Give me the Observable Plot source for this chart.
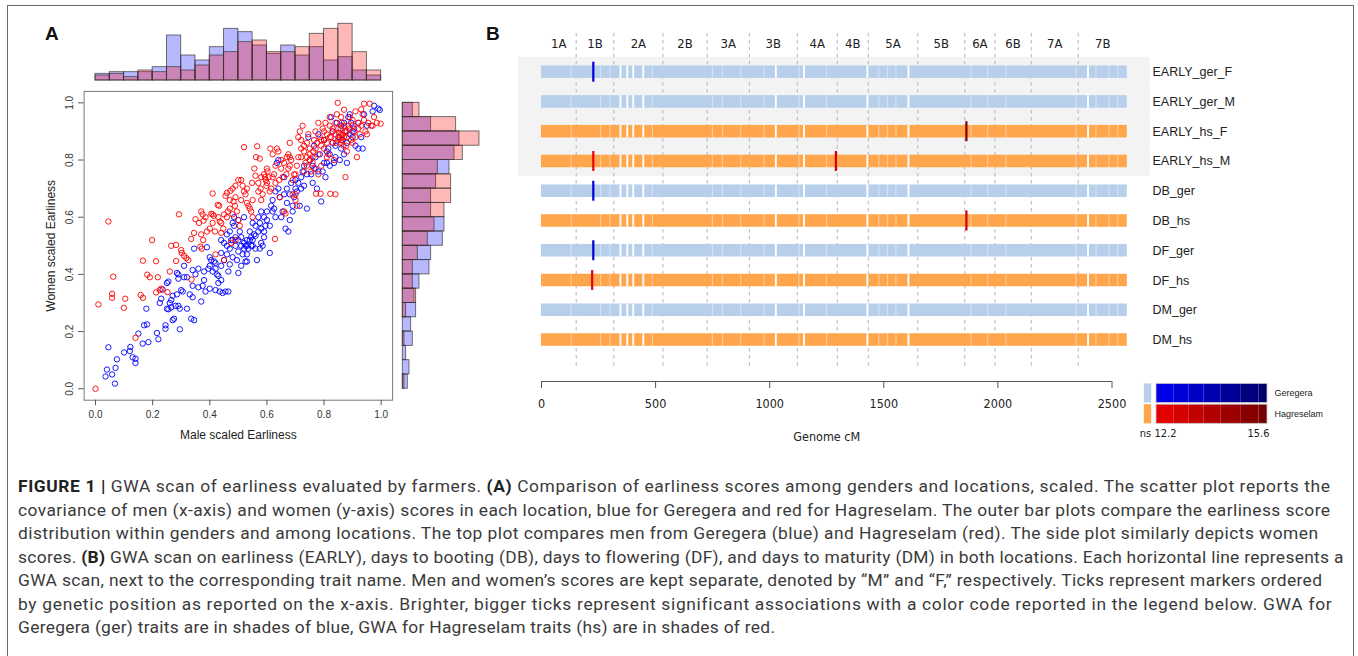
<!DOCTYPE html>
<html><head><meta charset="utf-8">
<script src="https://cdn.jsdelivr.net/npm/d3@7"></script>
<script src="https://cdn.jsdelivr.net/npm/@observablehq/plot@0.6"></script>
<style>
body{margin:0;background:#fff;}
#fig{position:relative;width:1358px;height:656px;overflow:hidden;font-family:"Liberation Sans",Arial,sans-serif;}
#fig svg{position:absolute;overflow:visible;}
.frame{position:absolute;left:7px;top:5px;width:1347px;height:720px;border:1.3px solid #6a6a6a;box-sizing:border-box;}
.plabel{position:absolute;font-weight:bold;font-size:19px;line-height:19px;color:#111;}
#caption{position:absolute;left:18px;top:475px;font-family:Roboto,"Liberation Sans",sans-serif;font-size:17.4px;line-height:23.5px;color:#3a3a3a;white-space:nowrap;}
#caption b{color:#222;}
</style></head>
<body>
<div id="fig">
  <div class="frame"></div>
  <div class="plabel" style="left:45px;top:24px">A</div>
  <div class="plabel" style="left:486px;top:24px">B</div>
  <div id="caption">
    <div><span data-end="1330"><b>FIGURE 1 |</b> GWA scan of earliness evaluated by farmers. <b>(A)</b> Comparison of earliness scores among genders and locations, scaled. The scatter plot reports the</span></div>
    <div><span data-end="1330">covariance of men (x-axis) and women (y-axis) scores in each location, blue for Geregera and red for Hagreselam. The outer bar plots compare the earliness score</span></div>
    <div><span data-end="1318">distribution within genders and among locations. The top plot compares men from Geregera (blue) and Hagreselam (red). The side plot similarly depicts women</span></div>
    <div><span data-end="1343">scores. <b>(B)</b> GWA scan on earliness (EARLY), days to booting (DB), days to flowering (DF), and days to maturity (DM) in both locations. Each horizontal line represents a</span></div>
    <div><span data-end="1322">GWA scan, next to the corresponding trait name. Men and women’s scores are kept separate, denoted by “M” and “F,” respectively. Ticks represent markers ordered</span></div>
    <div><span data-end="1331">by genetic position as reported on the x-axis. Brighter, bigger ticks represent significant associations with a color code reported in the legend below. GWA for</span></div>
    <div><span data-end="775">Geregera (ger) traits are in shades of blue, GWA for Hagreselam traits (hs) are in shades of red.</span></div>
  </div>
</div>
<script>
// ---------------- Panel A data ----------------
// [male score, female score]
const geregeraScores = [
[0.035,0.043],[0.04,0.067],[0.045,0.145],[0.058,0.05],[0.068,0.018],[0.07,0.073],[0.075,0.103],[0.1,0.127],[0.12,0.132],[0.122,0.146],
[0.13,0.11],[0.14,0.09],[0.14,0.105],[0.15,0.193],[0.165,0.158],[0.17,0.222],[0.178,0.28],[0.18,0.225],[0.185,0.163],[0.215,0.195],
[0.22,0.173],[0.225,0.30],[0.23,0.315],[0.235,0.347],[0.245,0.21],[0.245,0.222],[0.25,0.37],[0.255,0.375],[0.25,0.28],[0.255,0.278],
[0.26,0.30],[0.265,0.285],[0.265,0.31],[0.27,0.325],[0.27,0.24],[0.275,0.245],[0.28,0.29],[0.285,0.33],[0.285,0.405],[0.29,0.40],
[0.29,0.385],[0.29,0.29],[0.295,0.28],[0.295,0.208],[0.30,0.345],[0.305,0.34],[0.31,0.43],[0.31,0.39],[0.32,0.39],[0.32,0.28],
[0.33,0.33],[0.335,0.245],[0.34,0.415],[0.34,0.32],[0.345,0.49],[0.345,0.24],[0.35,0.40],[0.36,0.355],[0.37,0.305],[0.375,0.36],
[0.385,0.34],[0.39,0.495],[0.395,0.42],[0.40,0.46],[0.405,0.45],[0.41,0.41],[0.415,0.445],[0.42,0.345],[0.42,0.44],[0.425,0.40],
[0.43,0.395],[0.43,0.37],[0.435,0.34],[0.44,0.475],[0.44,0.52],[0.445,0.335],[0.45,0.45],[0.45,0.51],[0.455,0.34],[0.46,0.50],
[0.46,0.54],[0.465,0.41],[0.465,0.34],[0.47,0.435],[0.47,0.55],[0.475,0.52],[0.48,0.46],[0.48,0.58],[0.485,0.60],[0.485,0.57],
[0.49,0.50],[0.49,0.53],[0.495,0.45],[0.50,0.48],[0.50,0.59],[0.505,0.55],[0.51,0.43],[0.51,0.50],[0.515,0.47],[0.52,0.60],
[0.52,0.51],[0.525,0.50],[0.53,0.52],[0.53,0.47],[0.535,0.49],[0.54,0.55],[0.545,0.50],[0.55,0.52],[0.55,0.58],[0.555,0.54],
[0.56,0.535],[0.565,0.45],[0.57,0.60],[0.575,0.58],[0.58,0.56],[0.58,0.51],[0.585,0.50],[0.59,0.60],[0.59,0.55],[0.595,0.57],
[0.60,0.59],[0.61,0.475],[0.615,0.64],[0.62,0.66],[0.625,0.63],[0.63,0.69],[0.635,0.79],[0.64,0.80],[0.645,0.67],[0.65,0.60],
[0.655,0.62],[0.66,0.74],[0.665,0.56],[0.67,0.70],[0.675,0.55],[0.68,0.59],[0.685,0.72],[0.69,0.64],[0.695,0.67],[0.70,0.70],
[0.705,0.69],[0.71,0.72],[0.715,0.64],[0.72,0.74],[0.725,0.76],[0.73,0.78],[0.74,0.63],[0.745,0.88],[0.75,0.80],[0.755,0.75],
[0.76,0.72],[0.765,0.85],[0.77,0.77],[0.775,0.70],[0.78,0.89],[0.785,0.82],[0.79,0.655],[0.795,0.76],[0.80,0.87],[0.805,0.74],
[0.81,0.79],[0.815,0.84],[0.82,0.78],[0.825,0.95],[0.83,0.86],[0.835,0.79],[0.84,0.81],[0.845,0.93],[0.85,0.88],[0.855,0.80],
[0.86,0.92],[0.865,0.87],[0.87,0.82],[0.875,0.90],[0.88,0.79],[0.885,0.95],[0.89,0.96],[0.895,0.93],[0.90,0.88],[0.905,0.91],
[0.91,0.85],[0.92,0.84],[0.93,0.88],[0.935,0.84],[0.94,0.96],[0.95,0.92],[0.97,0.97],[0.975,0.99],[0.99,0.98],[0.995,0.975],
[0.575,0.49],[0.53,0.445],[0.50,0.405],[0.545,0.53],[0.525,0.445],
[0.48,0.52],[0.50,0.52],[0.51,0.53],[0.52,0.49],[0.53,0.50],[0.54,0.52],[0.55,0.50],[0.56,0.57],[0.57,0.55],[0.47,0.49],
[0.46,0.47],[0.44,0.43],[0.42,0.42],[0.40,0.43],[0.38,0.41],[0.36,0.42],[0.58,0.62],[0.60,0.62],[0.62,0.62],[0.64,0.70],
[0.66,0.68],[0.68,0.68],[0.70,0.73],[0.72,0.70],[0.74,0.75],[0.76,0.78],[0.78,0.76],[0.80,0.79],[0.82,0.82],[0.84,0.85],
[0.86,0.84],[0.88,0.86],[0.90,0.90],[0.92,0.93],[0.89,0.89],[0.87,0.93],[0.83,0.90],[0.81,0.83],[0.77,0.81],[0.73,0.71],
[0.69,0.62],[0.67,0.65],[0.63,0.60],[0.61,0.57],[0.59,0.53],[0.56,0.49],[0.44,0.38],[0.40,0.35],[0.38,0.38],[0.34,0.36]
];
const hagreselamScores = [
[0.00,0.00],[0.01,0.295],[0.045,0.585],[0.062,0.392],[0.058,0.332],[0.058,0.318],[0.099,0.283],[0.104,0.315],[0.14,0.178],[0.158,0.328],
[0.166,0.318],[0.166,0.448],[0.181,0.399],[0.19,0.39],[0.198,0.52],[0.212,0.446],[0.218,0.39],[0.212,0.337],[0.225,0.345],[0.23,0.35],
[0.252,0.338],[0.26,0.41],[0.265,0.5],[0.282,0.503],[0.282,0.447],[0.292,0.61],[0.30,0.485],[0.302,0.475],[0.31,0.465],[0.318,0.457],
[0.325,0.45],[0.335,0.524],[0.336,0.382],[0.345,0.545],[0.35,0.593],[0.362,0.58],[0.37,0.62],[0.375,0.61],[0.385,0.6],[0.378,0.588],
[0.367,0.497],[0.372,0.49],[0.377,0.52],[0.40,0.56],[0.405,0.612],[0.41,0.61],[0.414,0.605],[0.41,0.683],[0.418,0.55],[0.42,0.47],
[0.428,0.643],[0.433,0.64],[0.435,0.585],[0.44,0.58],[0.447,0.56],[0.44,0.545],[0.455,0.675],[0.46,0.685],[0.45,0.45],[0.472,0.692],
[0.48,0.70],[0.483,0.655],[0.488,0.64],[0.49,0.71],[0.495,0.62],[0.47,0.63],[0.48,0.61],[0.475,0.51],[0.49,0.52],[0.50,0.73],
[0.50,0.59],[0.505,0.57],[0.46,0.6],[0.463,0.62],[0.51,0.73],[0.515,0.71],[0.52,0.845],[0.52,0.69],[0.525,0.68],[0.53,0.65],
[0.535,0.64],[0.54,0.63],[0.545,0.62],[0.548,0.72],[0.55,0.6],[0.556,0.77],[0.56,0.745],[0.562,0.81],[0.566,0.848],[0.57,0.72],
[0.575,0.805],[0.578,0.70],[0.58,0.66],[0.585,0.68],[0.59,0.75],[0.593,0.74],[0.596,0.73],[0.598,0.71],[0.60,0.77],[0.602,0.76],
[0.606,0.74],[0.61,0.69],[0.612,0.84],[0.615,0.70],[0.62,0.82],[0.625,0.75],[0.628,0.524],[0.63,0.78],[0.635,0.84],[0.64,0.83],
[0.643,0.73],[0.645,0.67],[0.65,0.80],[0.655,0.74],[0.66,0.62],[0.665,0.613],[0.668,0.75],[0.67,0.81],[0.675,0.82],[0.68,0.86],
[0.685,0.80],[0.69,0.68],[0.695,0.75],[0.70,0.66],[0.70,0.68],[0.705,0.64],[0.71,0.88],[0.715,0.90],[0.72,0.87],[0.725,0.92],
[0.73,0.85],[0.735,0.79],[0.74,0.86],[0.745,0.89],[0.75,0.84],[0.755,0.76],[0.76,0.81],[0.762,0.83],[0.765,0.87],[0.77,0.90],
[0.772,0.682],[0.775,0.86],[0.78,0.93],[0.785,0.88],[0.788,0.682],[0.79,0.85],[0.795,0.91],[0.80,0.87],[0.805,0.93],[0.81,0.89],
[0.815,0.82],[0.82,0.95],[0.822,0.682],[0.825,0.88],[0.83,0.90],[0.835,0.80],[0.84,0.68],[0.842,0.86],[0.845,0.96],[0.848,1.0],
[0.85,0.91],[0.855,0.88],[0.86,0.87],[0.862,0.93],[0.865,0.89],[0.87,0.976],[0.872,0.90],[0.875,0.74],[0.878,0.85],[0.88,0.88],
[0.885,0.92],[0.89,0.95],[0.895,0.87],[0.90,0.94],[0.905,0.90],[0.91,0.97],[0.915,0.81],[0.92,0.93],[0.925,0.89],[0.93,0.977],
[0.935,0.96],[0.94,0.997],[0.945,0.90],[0.95,0.89],[0.955,0.93],[0.96,0.997],[0.965,0.92],[0.97,0.92],[0.998,0.927],[0.985,0.93],
[0.975,0.95],[0.868,0.85],[0.858,0.91],[0.852,0.895],[0.83,0.86],[0.81,0.81],[0.79,0.78],[0.78,0.75],[0.765,0.77],[0.75,0.80],
[0.74,0.81],[0.73,0.76],[0.72,0.81],[0.705,0.78],[0.70,0.75],[0.69,0.73],[0.68,0.81],[0.675,0.77],
[0.86,0.86],[0.87,0.88],[0.88,0.90],[0.89,0.91],[0.9,0.92],[0.87,0.92],[0.86,0.89],[0.85,0.87],[0.84,0.89],[0.83,0.91],
[0.82,0.88],[0.81,0.86],[0.80,0.84],[0.79,0.87],[0.78,0.82],[0.77,0.84],[0.76,0.79],[0.75,0.82],[0.74,0.78],[0.73,0.83],
[0.92,0.91],[0.91,0.88],[0.93,0.92],[0.94,0.94],[0.90,0.86],[0.88,0.83],[0.86,0.95],[0.84,0.93],[0.82,0.92],[0.80,0.90],
[0.65,0.77],[0.63,0.72],[0.62,0.74],[0.60,0.72],[0.58,0.74],[0.57,0.69],[0.55,0.66],[0.53,0.70],[0.51,0.66],[0.49,0.67],
[0.47,0.66],[0.45,0.61],[0.43,0.60],[0.41,0.58],[0.39,0.55],[0.37,0.54],[0.66,0.79],[0.68,0.78],[0.71,0.81],[0.72,0.84]
];
const axisTicks = [0, 0.2, 0.4, 0.6, 0.8, 1.0];
const binWidth = 0.05;
// histogram counts, bins from 0 upward (width 0.05)
const gerMaleCounts   = [4,5,5,5,8,27,15,12,20,31,29,21,16,21,15,20,12,14,6,3];
const hsMaleCounts    = [3,4,2,6,5,8,6,9,15,17,23,24,17,17,20,28,31,34,17,6];
const gerFemaleCounts = [3,4,2,6,5,8,7,10,16,17,24,25,17,17,20,28,31,34,17,6];
const hsFemaleCounts  = [1,0,0,1,0,2,8,6,6,9,15,19,25,29,29,21,36,46,32,10];

// ---------------- Panel B data ----------------
const traits = ["EARLY_ger_F","EARLY_ger_M","EARLY_hs_F","EARLY_hs_M","DB_ger","DB_hs","DF_ger","DF_hs","DM_ger","DM_hs"];
const chromNames = ["1A","1B","2A","2B","3A","3B","4A","4B","5A","5B","6A","6B","7A","7B"];
const chromStart = [0,152,317,532,726,911,1121,1296,1432,1649,1855,1987,2146,2352];
const genomeEnd = 2567;
const genomeTicks = [0,500,1000,1500,2000,2500];
const markerGaps = [346,376,402,446,1027,1150,1428,1608,2395];
const sparseMarkers = [130,259,300,486,749,793,873,975,1128,1249,1478,1516,1553,1882,1955,2035,2342,2430,2487,2525];
const sigTrait = ["EARLY_ger_F","EARLY_hs_F","EARLY_hs_M","EARLY_hs_M","DB_ger","DB_hs","DF_ger","DF_hs"];
const sigPos   = [227,1862,227,1290,227,1862,227,222];
const sigScore = [13.0,15.2,12.3,12.8,12.9,13.1,13.2,12.5];
const legendLocations = ["Geregera","Hagreselam"];
const legendBreaks = [12.2,12.73,13.19,13.65,14.17,14.78,15.34,15.6];

// ---------------- styles ----------------
const sansA = "'Liberation Sans', Arial, sans-serif";
const narrow = "'Liberation Sans Narrow','DejaVu Sans Condensed','Roboto Condensed',Roboto,sans-serif";
const gerBar = "#b8cfeb", hsBar = "#ffa64d";
const isGer = t => t.includes("_ger") || t === "Geregera";
const scoreDomain = [legendBreaks[0], legendBreaks[legendBreaks.length-1]];
const blueRamp = d3.scalePow().exponent(2).domain(scoreDomain).range(["#0000f5","#000066"]);
const redRamp = d3.scalePow().exponent(2).domain(scoreDomain).range(["#ee0000","#700000"]);
const sigColor = (loc, s) => isGer(loc) ? blueRamp(s) : redRamp(s);
const fig = document.getElementById("fig");
function place(svg, left, top) { svg.style.left = left + "px"; svg.style.top = top + "px"; fig.appendChild(svg); }
const baseStyle = {background: "transparent", fontFamily: sansA, fontSize: "10px", color: "#333", overflow: "visible"};
const mid = {textAnchor: "middle", lineAnchor: "middle"};

// ---------------- Panel A: scatter ----------------
const ext = [-0.04, 1.04];
const fmt1 = d3.format(".1f");
const scatter = Plot.plot({
  width: 380, height: 370, marginLeft: 53.6, marginRight: 17.9, marginTop: 5.9, marginBottom: 55.3,
  x: {domain: ext}, y: {domain: ext}, style: baseStyle,
  marks: [
    Plot.frame({stroke: "#7a7a7a", strokeWidth: 1}),
    Plot.dot(geregeraScores, {x: d => d[0], y: d => d[1], r: 2.7, stroke: "#0000ff", strokeWidth: 0.9}),
    Plot.dot(hagreselamScores, {x: d => d[0], y: d => d[1], r: 2.7, stroke: "#ff0000", strokeWidth: 0.9}),
    Plot.axisX({ticks: axisTicks, tickSize: 5.5, tickPadding: 5, tickFormat: fmt1, label: null, stroke: "#555", fill: "#333"}),
    Plot.axisY({ticks: axisTicks, tickSize: 5.5, tickFormat: () => "", label: null, stroke: "#555"}),
    Plot.text(axisTicks, {y: d => d, text: fmt1, frameAnchor: "left", dx: -14, rotate: -90, fill: "#333", ...mid}),
    Plot.text(["Male scaled Earliness"], {frameAnchor: "bottom", dy: 35, fontSize: 12, fill: "#222", ...mid}),
    Plot.text(["Women scaled Earliness"], {frameAnchor: "left", dx: -32.5, rotate: -90, fontSize: 12, fill: "#222", ...mid})
  ]
});
place(scatter, 30, 85);

const histStroke = {stroke: "#333", strokeOpacity: 0.75, strokeWidth: 0.9};
const topHist = Plot.plot({
  width: 380, height: 75, marginLeft: 53.6, marginRight: 17.9, marginTop: 10, marginBottom: 5,
  x: {domain: ext, axis: null}, y: {domain: [0, 36], axis: null}, style: baseStyle,
  marks: [
    Plot.rect(gerMaleCounts, {x1: (d, i) => i * binWidth, x2: (d, i) => (i + 1) * binWidth, y1: 0, y2: d => d, fill: "#0000ff", fillOpacity: 0.28, ...histStroke}),
    Plot.rect(hsMaleCounts, {x1: (d, i) => i * binWidth, x2: (d, i) => (i + 1) * binWidth, y1: 0, y2: d => d, fill: "#ff0000", fillOpacity: 0.28, ...histStroke})
  ]
});
place(topHist, 30, 10);

const sideHist = Plot.plot({
  width: 100, height: 370, marginLeft: 7.3, marginRight: 12.7, marginTop: 5.9, marginBottom: 55.3,
  y: {domain: ext, axis: null}, x: {domain: [0, 48], axis: null}, style: baseStyle,
  marks: [
    Plot.rect(gerFemaleCounts, {y1: (d, i) => i * binWidth, y2: (d, i) => (i + 1) * binWidth, x1: 0, x2: d => d, fill: "#0000ff", fillOpacity: 0.28, ...histStroke}),
    Plot.rect(hsFemaleCounts, {y1: (d, i) => i * binWidth, y2: (d, i) => (i + 1) * binWidth, x1: 0, x2: d => d, fill: "#ff0000", fillOpacity: 0.28, ...histStroke})
  ]
});
place(sideHist, 395, 85);

// ---------------- Panel B ----------------
const chromEnd = i => i + 1 < chromStart.length ? chromStart[i + 1] : genomeEnd;
const cross = xs => traits.flatMap(t => xs.map(x => ({trait: t, x})));
const sig = sigTrait.map((t, i) => ({trait: t, pos: sigPos[i], score: sigScore[i]}));
const barInset = 8.6;
const bMargins = {marginLeft: 41, marginRight: 246.5};
const xDomainB = [genomeTicks[0], genomeTicks[genomeTicks.length - 1]];
const rows = Plot.plot({
  width: 858, height: 360, ...bMargins, marginTop: 13, marginBottom: 12,
  x: {domain: xDomainB, axis: null},
  y: {type: "band", domain: traits, range: [36.8, 334.4], padding: 0, round: false, axis: null},
  style: baseStyle,
  marks: [
    Plot.barX(traits.filter(t => t.startsWith("EARLY")), {y: d => d, x1: 0, x2: genomeEnd, fill: "#f3f3f3", insetLeft: -23, insetRight: -23}),
    Plot.ruleX(chromStart.slice(1), {stroke: "#b4b4b4", strokeWidth: 1, strokeDasharray: "3.5,3.5"}),
    Plot.text(chromNames, {x: (d, i) => (chromStart[i] + chromEnd(i)) / 2, frameAnchor: "top", dy: 10, fontSize: 13, fontFamily: narrow, fill: "#222", ...mid}),
    Plot.barX(traits, {y: d => d, x1: 0, x2: genomeEnd, fill: d => isGer(d) ? gerBar : hsBar, insetTop: barInset, insetBottom: barInset}),
    Plot.tickX(cross(sparseMarkers), {x: "x", y: "trait", stroke: "white", strokeOpacity: 0.38, strokeWidth: 1.2, insetTop: barInset, insetBottom: barInset}),
    Plot.tickX(cross(markerGaps), {x: "x", y: "trait", stroke: "white", strokeWidth: 1.9, insetTop: barInset, insetBottom: barInset}),
    Plot.tickX(sig, {x: "pos", y: "trait", stroke: d => sigColor(d.trait, d.score), strokeWidth: 2.2, insetTop: 4.9, insetBottom: 4.9}),
    Plot.axisY({anchor: "right", tickSize: 0, tickPadding: 40.5, fontSize: 12.5, fill: "#222", label: null})
  ]
});
place(rows, 500, 20);

const xAxisB = Plot.plot({
  width: 858, height: 80, ...bMargins, marginTop: 0, marginBottom: 69,
  x: {domain: xDomainB}, y: {domain: [0, 1], axis: null},
  style: {...baseStyle, fontFamily: narrow, fontSize: "12.5px"},
  marks: [
    Plot.ruleY([0], {x1: xDomainB[0], x2: xDomainB[1], stroke: "#555"}),
    Plot.axisX({ticks: genomeTicks, tickSize: 7, tickPadding: 11, tickFormat: d3.format("d"), label: null, stroke: "#555", fill: "#222"}),
    Plot.text(["Genome cM"], {x: d3.mean(xDomainB), frameAnchor: "bottom", dy: 55, fill: "#222", ...mid})
  ]
});
place(xAxisB, 500, 370);

// legend
const legendCells = legendLocations.flatMap(loc => d3.pairs(legendBreaks).map(([a, b]) => ({loc, a, b})));
const legend = Plot.plot({
  width: 228, height: 70, marginLeft: 26, marginRight: 91, marginTop: 9.7, marginBottom: 17,
  x: {domain: scoreDomain, axis: null},
  y: {type: "band", domain: legendLocations, padding: 0.08, round: false, axis: null},
  style: {...baseStyle, fontSize: "9.5px"},
  marks: [
    Plot.tickX(legendLocations, {x: scoreDomain[0], y: d => d, dx: -9, stroke: d => isGer(d) ? gerBar : hsBar, strokeWidth: 7.4}),
    Plot.barX(legendCells, {x1: "a", x2: "b", y: "loc", fill: d => sigColor(d.loc, (d.a + d.b) / 2)}),
    Plot.barX(legendLocations, {x1: scoreDomain[0], x2: scoreDomain[1], y: d => d, fill: "none", stroke: "#c8c8c8", strokeWidth: 0.8}),
    Plot.text(legendLocations, {x: scoreDomain[1], y: d => d, dx: 7, textAnchor: "start", lineAnchor: "middle", fill: "#222", fontSize: 9}),
    Plot.text(["ns"], {x: scoreDomain[0], frameAnchor: "bottom", dy: 8, dx: -11, fill: "#222", fontFamily: narrow, fontSize: 11, ...mid}),
    Plot.text([scoreDomain[0]], {x: d => d, text: d => d.toFixed(1), frameAnchor: "bottom", dy: 8, dx: 9, fill: "#222", fontFamily: narrow, fontSize: 11, ...mid}),
    Plot.text([scoreDomain[1]], {x: d => d, text: d => d.toFixed(1), frameAnchor: "bottom", dy: 8, dx: -9, fill: "#222", fontFamily: narrow, fontSize: 11, ...mid})
  ]
});
place(legend, 1130, 372);

// fit caption lines to the reference line ends
const capLeft = 18;
document.querySelectorAll("#caption span").forEach(span => {
  const target = +span.dataset.end - capLeft;
  const w = span.getBoundingClientRect().width;
  const n = span.textContent.length;
  if (w > 0 && n > 1) span.style.letterSpacing = ((target - w) / (n - 1)) + "px";
});
</script>
</body></html>
